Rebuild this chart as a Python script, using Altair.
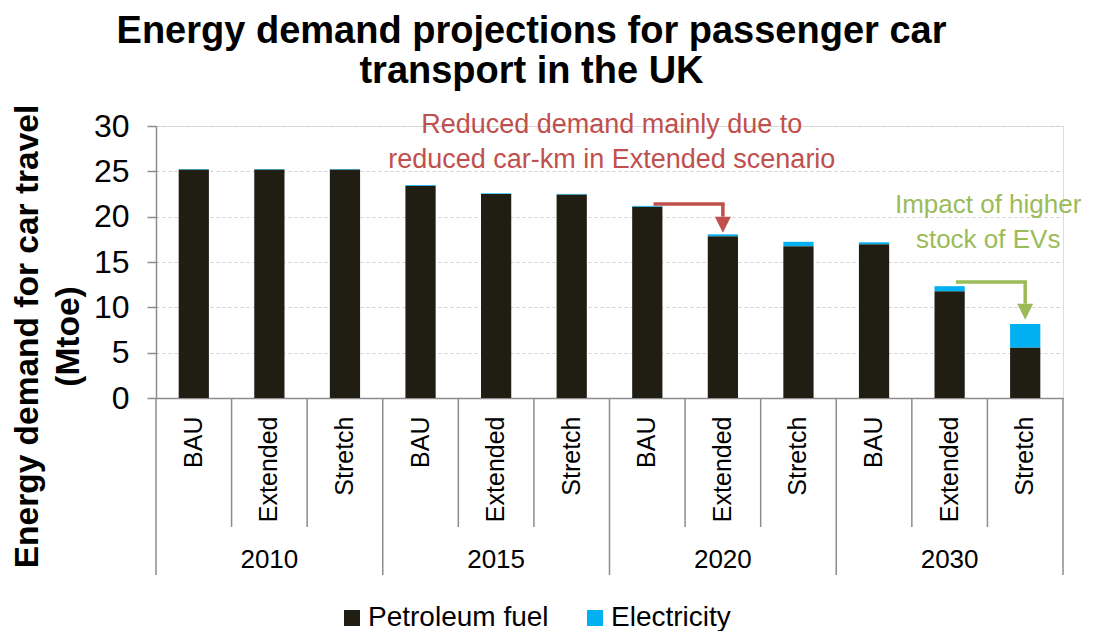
import altair as alt
import pandas as pd

# ---- data ----
years = ["2010", "2015", "2020", "2030"]
scenarios = ["BAU", "Extended", "Stretch"]
petroleum = [25.2, 25.2, 25.2, 23.4, 22.5, 22.45, 21.1, 17.85, 16.75, 16.97, 11.78, 5.56]
electricity = [0.05, 0.05, 0.05, 0.08, 0.07, 0.06, 0.09, 0.2, 0.48, 0.2, 0.55, 2.6]
series = ["Petroleum fuel", "Electricity"]
colors = ["#201D12", "#00B0F0"]

title_lines = ["Energy demand projections for passenger car", "transport in the UK"]
y_title = ["Energy demand for car travel", "(Mtoe)"]

red_text = ["Reduced demand mainly due to", "reduced car-km in Extended scenario"]
red_text_y = [30.1, 26.3]
green_text = ["Impact of higher", "stock of EVs"]
green_text_y = [21.3, 17.4]
# arrows: (from category, to category, horizontal level, arrow base, arrow head center)
red_arrow = ("2020 BAU", "2020 Extended", 21.4, 20.0, 19.1)
green_arrow = ("2030 Extended", "2030 Stretch", 12.8, 10.4, 9.5)

FONT = "Liberation Sans"
RED = "#C0504D"
GREEN = "#9BBB59"
GRAY = "#8C8C8C"

cats = [f"{y} {s}" for y in years for s in scenarios]

rows = []
for i, c in enumerate(cats):
    rows.append({"cat": c, "series": series[0], "value": petroleum[i], "ord": 0})
    rows.append({"cat": c, "series": series[1], "value": electricity[i], "ord": 1})
df = pd.DataFrame(rows)

xscale = alt.Scale(domain=cats, paddingInner=0, paddingOuter=0)

bars = alt.Chart(df).mark_bar(width=alt.RelativeBandSize(0.4)).encode(
    x=alt.X("cat:N", scale=xscale, sort=cats,
            axis=alt.Axis(title=None, labelExpr="split(datum.value, ' ')[1]",
                          labelAngle=-90, labelFontSize=25, labelFont=FONT,
                          labelColor="black", labelPadding=18, ticks=False,
                          domainColor=GRAY, domainWidth=1.5, labelAlign="right",
                          labelBaseline="middle")),
    y=alt.Y("value:Q", stack="zero",
            scale=alt.Scale(domain=[0, 30], nice=False),
            axis=alt.Axis(values=[0, 5, 10, 15, 20, 25, 30], title=y_title,
                          titleFont=FONT, titleFontSize=33.5, titleFontWeight="bold",
                          titleColor="black", titleAngle=270, titleX=-129, titleY=210,
                          titleAlign="center", titleBaseline="middle", titleLineHeight=41,
                          labelFontSize=32, labelFont=FONT, labelColor="black",
                          labelPadding=18, tickSize=9, tickColor=GRAY, tickWidth=1.5,
                          domainColor=GRAY, domainWidth=1.5,
                          grid=True, gridColor="#D0D0D0", gridDash=[3, 3], gridWidth=1)),
    color=alt.Color("series:N", scale=alt.Scale(domain=series, range=colors),
                    legend=alt.Legend(title=None, orient="none", legendX=182, legendY=478,
                                      direction="horizontal", symbolType="square",
                                      symbolSize=256, symbolStrokeWidth=0, padding=0,
                                      labelFontSize=28, labelFont=FONT, labelColor="black",
                                      labelLimit=400, labelOffset=2, columnPadding=32)),
    order=alt.Order("ord:Q"),
)

# separators below the axis
sep_minor = pd.DataFrame({"cat": [c for c in cats if not c.endswith("BAU")]})
sep_major = pd.DataFrame({"cat": [c for c in cats if c.endswith("BAU")]})
sep_end = pd.DataFrame({"cat": [cats[-1]]})

minor = alt.Chart(sep_minor).mark_rule(color=GRAY, strokeWidth=1.5).encode(
    x=alt.X("cat:N", scale=xscale, sort=cats, bandPosition=0),
    y=alt.value(272), y2=alt.value(401))
major = alt.Chart(sep_major).mark_rule(color=GRAY, strokeWidth=1.5).encode(
    x=alt.X("cat:N", scale=xscale, sort=cats, bandPosition=0),
    y=alt.value(272), y2=alt.value(449))
end = alt.Chart(sep_end).mark_rule(color=GRAY, strokeWidth=1.5).encode(
    x=alt.X("cat:N", scale=xscale, sort=cats, bandPosition=1),
    y=alt.value(272), y2=alt.value(449))

year_df = pd.DataFrame({"cat": [f"{y} Extended" for y in years], "year": years})
year_text = alt.Chart(year_df).mark_text(fontSize=26, font=FONT, color="black",
                                         baseline="middle", align="center").encode(
    x=alt.X("cat:N", scale=xscale, sort=cats), y=alt.value(434), text="year:N")

# annotations
red_df = pd.DataFrame({"c0": [red_arrow[0]] * 2, "t": red_text, "y": red_text_y})
red_txt = alt.Chart(red_df).mark_text(fontSize=27, font=FONT, color=RED,
                                      baseline="middle", align="center").encode(
    x=alt.X("c0:N", scale=xscale, sort=cats, bandPosition=0.03),
    y=alt.Y("y:Q"), text="t:N")
green_df = pd.DataFrame({"cat": [green_arrow[1]] * 2, "t": green_text, "y": green_text_y})
green_txt = alt.Chart(green_df).mark_text(fontSize=26, font=FONT, color=GREEN,
                                          baseline="middle", align="center").encode(
    x=alt.X("cat:N", scale=xscale, sort=cats, bandPosition=0.01),
    y=alt.Y("y:Q"), text="t:N")


def arrow(spec, col):
    a, b, lvl, base, tip = spec
    h = alt.Chart(pd.DataFrame({"a": [a], "b": [b], "y": [lvl]})).mark_rule(
        color=col, strokeWidth=3.5, xOffset=8, strokeCap="square").encode(
        x=alt.X("a:N", scale=xscale, sort=cats), x2="b:N", y="y:Q")
    v = alt.Chart(pd.DataFrame({"b": [b], "y": [lvl], "y2": [base]})).mark_rule(
        color=col, strokeWidth=3.5).encode(
        x=alt.X("b:N", scale=xscale, sort=cats), y="y:Q", y2="y2:Q")
    head = alt.Chart(pd.DataFrame({"b": [b], "y": [tip]})).mark_point(
        shape="M-1,-1L1,-1L0,1Z", filled=True, size=256, color=col, opacity=1).encode(
        x=alt.X("b:N", scale=xscale, sort=cats), y="y:Q")
    return [h, v, head]


layers = [bars, minor, major, end, year_text, red_txt, green_txt] + arrow(red_arrow, RED) + arrow(green_arrow, GREEN)

chart = alt.layer(*layers).properties(
    width=907, height=272,
    autosize=alt.AutoSizeParams(type="none"),
    padding={"left": 148, "top": 118, "right": 22, "bottom": 233},
    title=alt.TitleParams(text=title_lines, fontSize=38, fontWeight="bold", font=FONT,
                          color="black", lineHeight=40, anchor="middle", frame="group",
                          dx=-78, dy=57, offset=40, baseline="alphabetic"),
).configure_view(stroke=None).configure(background="white")

chart.save("out.html", embed_options={"renderer": "svg", "actions": False})
